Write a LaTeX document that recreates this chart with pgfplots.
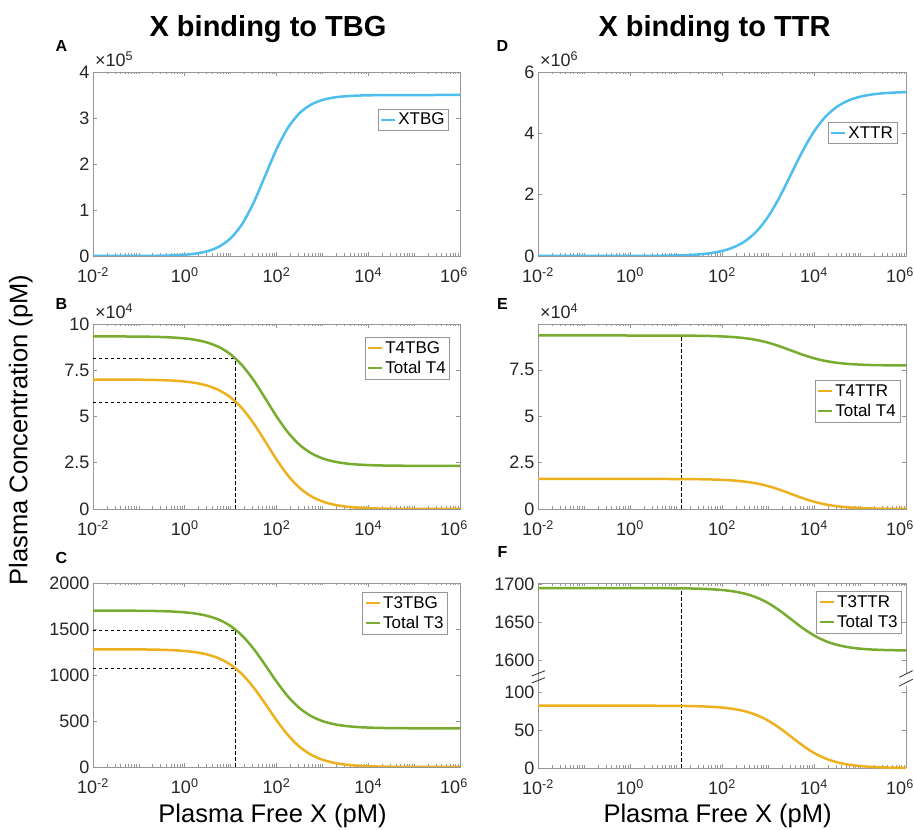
\documentclass[border=0pt]{standalone}
\usepackage{pgfplots}
\usepackage{pgfplotstable}
\pgfplotsset{compat=1.18}
\usepackage{fontspec}
\setmainfont{Liberation Sans}
\definecolor{mblue}{RGB}{77,190,238}
\definecolor{morange}{RGB}{237,177,32}
\definecolor{mgreen}{RGB}{119,172,48}
\definecolor{axgray}{RGB}{150,150,150}
\definecolor{txt}{RGB}{38,38,38}

\pgfplotstableread{
x A D tfb totb ttb totc tfe tote tte totf
0.01 11 17 69989 93289 1279.8 1699.8 16200 93500 82.00 1695.00
0.01778 22 30 69980 93280 1279.7 1699.7 16200 93500 82.00 1695.00
0.03162 43 53 69964 93264 1279.4 1699.4 16200 93500 82.00 1695.00
0.05623 86 94 69937 93237 1278.9 1698.9 16200 93500 82.00 1695.00
0.1 173 167 69887 93187 1278.1 1698.1 16199 93499 82.00 1695.00
0.1778 344 298 69800 93100 1276.6 1696.6 16199 93499 82.00 1695.00
0.3162 686 530 69645 92945 1273.9 1693.9 16198 93498 81.99 1694.99
0.5623 1366 942 69371 92671 1269.2 1689.2 16197 93497 81.99 1694.99
1 2715 1675 68889 92189 1260.9 1680.9 16195 93495 81.97 1694.97
1.778 5376 2976 68048 91348 1246.4 1666.4 16191 93491 81.95 1694.95
3.162 10570 5291 66603 89903 1221.5 1641.5 16184 93484 81.92 1694.92
5.623 20470 9400 64179 87479 1179.5 1599.5 16172 93472 81.86 1694.86
10 38580 16700 60278 83578 1111.6 1531.6 16150 93450 81.74 1694.74
17.78 69300 29610 54400 77700 1008.4 1428.4 16110 93410 81.55 1694.55
31.62 115600 52450 46358 69658 865.4 1285.4 16041 93341 81.20 1694.20
56.23 173600 92570 36708 60008 691.2 1111.2 15920 93220 80.58 1693.58
100 231900 162400 26790 50090 508.9 928.9 15709 93009 79.52 1692.52
177.8 278800 282100 18098 41398 346.5 766.5 15347 92647 77.68 1690.68
316.2 310300 482000 11475 34775 221.0 641.0 14743 92043 74.63 1687.63
562.3 328900 801100 6952 30252 134.5 554.5 13779 91079 69.74 1682.74
1000 339100 1276200 4087 27387 79.3 499.3 12343 89643 62.48 1675.48
1778 344500 1914600 2359 25659 45.8 465.8 10413 87713 52.71 1665.71
3162 347200 2663900 1346 24646 26.2 446.2 8149 85449 41.25 1654.25
5623 348600 3416000 764 24064 14.9 434.9 5876 83176 29.74 1642.74
10000 349300 4060600 431 23731 8.4 428.4 3927 81227 19.88 1632.88
17783 349650 4542600 243 23543 4.7 424.7 2471 79771 12.51 1625.51
31623 349820 4867400 137 23437 2.7 422.7 1489 78789 7.54 1620.54
56234 349910 5071600 77 23377 1.5 421.5 872 78172 4.41 1617.41
100000 349955 5193800 43 23343 0.8 420.8 502 77802 2.54 1615.54
177828 349977 5265200 24 23324 0.5 420.5 286 77586 1.45 1614.45
316228 349989 5306300 14 23314 0.3 420.3 162 77462 0.82 1613.82
562341 349994 5329700 8 23308 0.1 420.1 92 77392 0.46 1613.46
1000000 349997 5342900 4 23304 0.1 420.1 52 77352 0.26 1613.26
}\data

\pgfplotsset{
  every axis/.append style={
    scale only axis, anchor=south west,
    xmin=1e-2, xmax=1e6,
    xtick={1e-2,1,1e2,1e4,1e6},
    xticklabels={10\textsuperscript{-2},10\textsuperscript{0},10\textsuperscript{2},10\textsuperscript{4},10\textsuperscript{6}\hspace*{12pt}},
    minor xtick={2e-2,3e-2,4e-2,5e-2,6e-2,7e-2,8e-2,9e-2,1e-1,2e-1,3e-1,4e-1,5e-1,6e-1,7e-1,8e-1,9e-1,2,3,4,5,6,7,8,9,1e1,2e1,3e1,4e1,5e1,6e1,7e1,8e1,9e1,2e2,3e2,4e2,5e2,6e2,7e2,8e2,9e2,1e3,2e3,3e3,4e3,5e3,6e3,7e3,8e3,9e3,2e4,3e4,4e4,5e4,6e4,7e4,8e4,9e4,1e5,2e5,3e5,4e5,5e5,6e5,7e5,8e5,9e5},
    scaled y ticks=false,
    axis line style={draw=axgray, line width=0.7pt},
    tick style={draw=axgray, line width=0.6pt},
    major tick length=4pt, minor tick length=2.5pt,
    tick align=inside,
    tick label style={font=\fontsize{18}{20}\selectfont, text=txt},
    xticklabel style={yshift=-8pt},
    legend style={draw=axgray, line width=0.6pt, font=\fontsize{17}{19}\selectfont, text=black, anchor=north east, inner sep=2pt, row sep=2.5pt},
    legend cell align=left,
  },
  legend image code/.code={\draw[#1] (0pt,0pt) -- (14pt,0pt);},
}
\tikzset{
  mydash/.style={black, line width=0.8pt, dash pattern=on 3.5pt off 2.5pt, sharp plot},
  mycurve/.style={line width=2.5pt, smooth},
}

\begin{document}
\begin{tikzpicture}
\path[use as bounding box] (0pt,0pt) rectangle (914pt,830pt);

% A
\begin{semilogxaxis}[at={(93pt,574pt)}, width=367pt, height=184pt,
  ymin=0, ymax=400000, ytick={0,100000,200000,300000,400000}, yticklabels={0,1,2,3,4},
  legend style={at={(0.97,0.8)}}]
\addplot[mblue, mycurve] table[x=x,y=A]{\data};
\addlegendentry{XTBG}
\end{semilogxaxis}

% D
\begin{semilogxaxis}[at={(538pt,574pt)}, width=368pt, height=184pt,
  ymin=0, ymax=6000000, ytick={0,2000000,4000000,6000000}, yticklabels={0,2,4,6},
  legend style={at={(0.976,0.728)}}]
\addplot[mblue, mycurve] table[x=x,y=D]{\data};
\addlegendentry{XTTR}
\end{semilogxaxis}

% B
\begin{semilogxaxis}[at={(93pt,321pt)}, width=367pt, height=185pt,
  ymin=0, ymax=100000, ytick={0,25000,50000,75000,100000}, yticklabels={0,2.5,5,7.5,10},
  legend style={at={(0.973,0.93)}}]
\addplot[mydash, forget plot] coordinates {(0.01,57867) (13,57867)};
\addplot[mydash, forget plot] coordinates {(0.01,81167) (13,81167)};
\addplot[mydash, forget plot] coordinates {(13,0) (13,81167)};
\addplot[morange, mycurve] table[x=x,y=tfb]{\data};
\addlegendentry{T4TBG}
\addplot[mgreen, mycurve] table[x=x,y=totb]{\data};
\addlegendentry{Total T4}
\end{semilogxaxis}

% E
\begin{semilogxaxis}[at={(538pt,321pt)}, width=368pt, height=185pt,
  ymin=0, ymax=99700, ytick={0,25000,50000,75000}, yticklabels={0,2.5,5,7.5},
  legend style={at={(0.984,0.697)}}]
\addplot[mydash, forget plot] coordinates {(0.01,16134) (13,16134)};
\addplot[mydash, forget plot] coordinates {(0.01,93434) (13,93434)};
\addplot[mydash, forget plot] coordinates {(13,0) (13,93434)};
\addplot[morange, mycurve] table[x=x,y=tfe]{\data};
\addlegendentry{T4TTR}
\addplot[mgreen, mycurve] table[x=x,y=tote]{\data};
\addlegendentry{Total T4}
\end{semilogxaxis}

% C
\begin{semilogxaxis}[at={(93pt,63pt)}, width=367pt, height=184pt,
  ymin=0, ymax=2000, ytick={0,500,1000,1500,2000}, yticklabels={0,500,1000,1500,2000},
  legend style={at={(0.967,0.951)}}]
\addplot[mydash, forget plot] coordinates {(0.01,1069.4) (13,1069.4)};
\addplot[mydash, forget plot] coordinates {(0.01,1489.4) (13,1489.4)};
\addplot[mydash, forget plot] coordinates {(13,0) (13,1489.4)};
\addplot[morange, mycurve] table[x=x,y=ttb]{\data};
\addlegendentry{T3TBG}
\addplot[mgreen, mycurve] table[x=x,y=totc]{\data};
\addlegendentry{Total T3}
\end{semilogxaxis}

% F upper
\begin{semilogxaxis}[at={(538pt,157.3pt)}, width=368pt, height=89.4pt,
  axis x line*=top, xticklabels={},
  ymin=1584, ymax=1701.3, ytick={1600,1650,1700}, yticklabels={1600,1650,1700},
  legend style={at={(0.989,0.914)}}]
\addplot[mydash, forget plot] coordinates {(0.01,1694.67) (13,1694.67)};
\addplot[mydash, forget plot] coordinates {(13,1584) (13,1694.67)};
\addlegendimage{morange, line width=2.5pt}
\addlegendentry{T3TTR}
\addplot[mgreen, mycurve] table[x=x,y=totf]{\data};
\addlegendentry{Total T3}
\end{semilogxaxis}

% F lower
\begin{semilogxaxis}[at={(538pt,62pt)}, width=368pt, height=82pt,
  axis x line*=bottom, clip=false,
  ymin=0, ymax=107.9, ytick={0,50,100}, yticklabels={0,50,100}]
\addplot[mydash, forget plot] coordinates {(0.01,81.67) (13,81.67)};
\addplot[mydash, forget plot] coordinates {(13,0) (13,125.4)};
\addplot[morange, mycurve] table[x=x,y=tte]{\data};
\end{semilogxaxis}

\begin{scope}[x=1pt,y=1pt]
% break marks
\draw[axgray, line width=0.7pt] (538,144) -- (538,157.3);
\draw[txt, line width=0.8pt] (531.7,147) -- (545,152.3);
\draw[txt, line width=0.8pt] (531.7,154) -- (545,159.3);
\draw[txt, line width=0.8pt] (899.3,144) -- (912.7,150.7);
\draw[txt, line width=0.8pt] (899.3,152.7) -- (912.7,159.3);

% scale labels
\node[anchor=base west, font=\fontsize{18}{20}\selectfont, text=txt, inner sep=0pt] at (95,763) {×10\textsuperscript{5}};
\node[anchor=base west, font=\fontsize{18}{20}\selectfont, text=txt, inner sep=0pt] at (540,763) {×10\textsuperscript{6}};
\node[anchor=base west, font=\fontsize{18}{20}\selectfont, text=txt, inner sep=0pt] at (95,511) {×10\textsuperscript{4}};
\node[anchor=base west, font=\fontsize{18}{20}\selectfont, text=txt, inner sep=0pt] at (540,511) {×10\textsuperscript{4}};

% panel letters
\node[anchor=base, font=\bfseries\fontsize{16}{18}\selectfont] at (61.5,778) {A};
\node[anchor=base, font=\bfseries\fontsize{16}{18}\selectfont] at (61.5,520) {B};
\node[anchor=base, font=\bfseries\fontsize{16}{18}\selectfont] at (61.5,266) {C};
\node[anchor=base, font=\bfseries\fontsize{16}{18}\selectfont] at (502.5,778) {D};
\node[anchor=base, font=\bfseries\fontsize{16}{18}\selectfont] at (502.5,520) {E};
\node[anchor=base, font=\bfseries\fontsize{16}{18}\selectfont] at (502.5,272) {F};

% titles
\node[anchor=base, font=\bfseries\fontsize{29}{32}\selectfont] at (268,793) {X binding to TBG};
\node[anchor=base, font=\bfseries\fontsize{29}{32}\selectfont] at (714.5,793) {X binding to TTR};

% axis labels
\node[anchor=base, rotate=90, font=\fontsize{25.5}{28}\selectfont] at (27.5,400) {Plasma Concentration (pM)};
\node[anchor=base, font=\fontsize{25.5}{28}\selectfont] at (272.5,7) {Plasma Free X (pM)};
\node[anchor=base, font=\fontsize{25.5}{28}\selectfont] at (717.6,7) {Plasma Free X (pM)};
\end{scope}
\end{tikzpicture}
\end{document}
